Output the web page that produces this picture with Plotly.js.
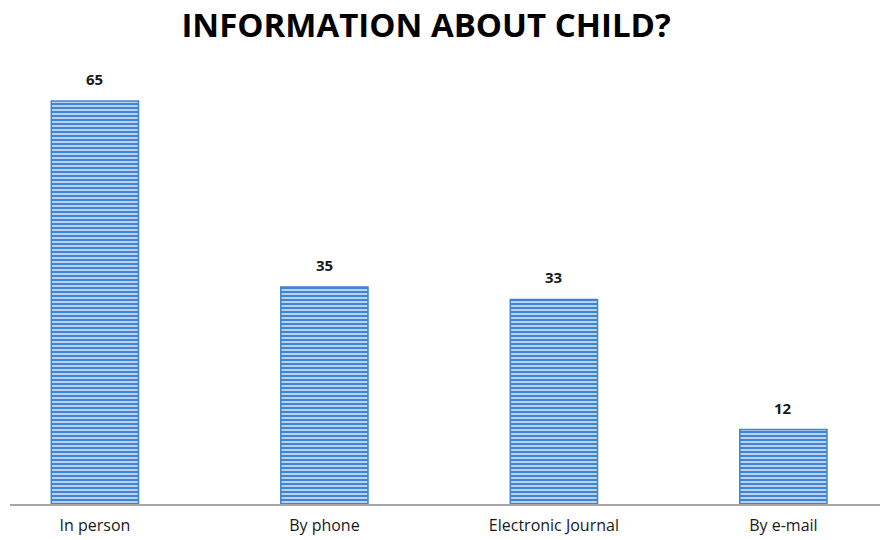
<!DOCTYPE html>
<html>
<head>
<meta charset="utf-8">
<script src="https://cdn.plot.ly/plotly-3.0.1.min.js"></script>
<style>html,body{margin:0;padding:0;background:#fff;}#chart{width:884px;height:540px;}</style>
</head>
<body>
<div id="chart"></div>
<script>
const categories = ["In person", "By phone", "Electronic Journal", "By e-mail"];
const values = [65, 35, 33, 12];
const chartTitle = "INFORMATION ABOUT CHILD?";

const trace = {
  type: "bar",
  x: categories,
  y: values,
  width: 0.38,
  marker: {
    color: "#dce8f7",
    line: { color: "#3f82d0", width: 1.5 },
    pattern: { shape: "-", fgcolor: "#3f85d4", bgcolor: "#d8e6f8", size: 4, solidity: 0.6 }
  },
  hoverinfo: "none"
};

const annotations = categories.map((c, i) => ({
  x: c, y: values[i], text: "<b>" + values[i] + "</b>", showarrow: false,
  yanchor: "bottom", yshift: 10,
  font: { family: "Open Sans, sans-serif", size: 15, color: "#1a1a1a" }
}));

const layout = {
  width: 884, height: 540,
  margin: { l: 10, r: 4, t: 70, b: 36 },
  paper_bgcolor: "#ffffff", plot_bgcolor: "#ffffff",
  title: {
    text: "<b>" + chartTitle + "</b>",
    x: 0.482, xref: "container", xanchor: "center",
    y: 0.953, yref: "container", yanchor: "middle",
    font: { family: "Open Sans, sans-serif", size: 33, color: "#000000" }
  },
  xaxis: {
    type: "category",
    range: [-0.37, 3.421],
    showline: true, linecolor: "#a6a6a6", linewidth: 2,
    ticks: "", showgrid: false, zeroline: false,
    tickfont: { family: "Open Sans, sans-serif", size: 16, color: "#1a1a1a" },
    ticklabelstandoff: 6
  },
  yaxis: {
    range: [0, 70], visible: false, showgrid: false, zeroline: false
  },
  annotations: annotations,
  showlegend: false
};

Plotly.newPlot("chart", [trace], layout, { displayModeBar: false, staticPlot: true });
</script>
</body>
</html>
